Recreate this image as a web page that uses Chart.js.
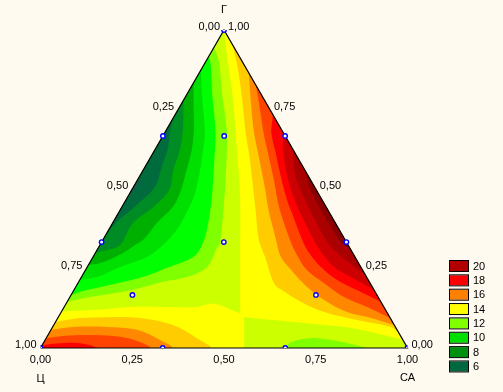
<!DOCTYPE html>
<html>
<head>
<meta charset="utf-8">
<script src="https://cdn.jsdelivr.net/npm/chart.js@4/dist/chart.umd.js"></script>
<style>
    html, body { margin: 0; background: #fffaf0; }
    #wrap { width: 503px; height: 392px; }
</style>
</head>
<body>
<div id="wrap"><canvas id="ternary" width="503" height="392"></canvas></div>
<script>
// contour lines: [x, y], x = CA + G/2, y = G
const left13 = [[.5,1],[.509,.912],[.523,.796],[.532,.676],[.538,.582],[.544,.475],[.544,.3],[.544,.12],[.544,.11],[.535,.113],[.47,.14],[.426,.129],[.353,.129],[.249,.129],[.154,.12],[.0575,.115]];
const left12 = [[.473,.946],[.486,.903],[.495,.796],[.508,.676],[.504,.528],[.498,.425],[.489,.33],[.481,.315],[.454,.255],[.399,.223],[.334,.208],[.249,.182],[.135,.16],[.0725,.145]];
const left11 = [[.459,.917],[.464,.89],[.468,.796],[.477,.676],[.473,.582],[.467,.475],[.456,.387],[.44,.324],[.416,.286],[.345,.252],[.279,.223],[.189,.198],[.127,.182],[.0835,.167]];
const left10 = [[.437,.874],[.441,.78],[.448,.676],[.444,.632],[.435,.56],[.421,.487],[.398,.425],[.371,.371],[.334,.324],[.29,.286],[.217,.255],[.154,.223],[.107,.214]];
const left9 = [[.417,.833],[.417,.764],[.418,.686],[.412,.623],[.398,.56],[.38,.487],[.358,.44],[.317,.393],[.285,.346],[.258,.324],[.225,.299],[.17,.27],[.1305,.261]];
const left8 = [[.39,.78],[.388,.686],[.38,.623],[.362,.56],[.351,.497],[.307,.443],[.252,.393],[.217,.324],[.181,.308],[.1495,.299]];
const left7 = [[.362,.723],[.354,.686],[.348,.632],[.33,.569],[.312,.506],[.262,.45],[.208,.396],[.173,.346]];
const left6 = [[.264,.528],[.274,.522],[.252,.491],[.24,.48]];

const right15 = [[.522,.956],[.536,.89],[.55,.777],[.559,.676],[.568,.613],[.577,.528],[.586,.434],[.595,.34],[.612,.286],[.636,.204],[.658,.182],[.71,.145],[.773,.113],[.862,.088],[.955,.066],[.9765,.047]];
const right16 = [[.5675,.865],[.574,.764],[.582,.676],[.595,.601],[.611,.506],[.623,.425],[.642,.34],[.655,.286],[.683,.245],[.726,.192],[.773,.151],[.835,.113],[.901,.094],[.964,.072]];
const right17 = [[.5865,.827],[.595,.771],[.608,.676],[.618,.623],[.636,.528],[.65,.443],[.68,.34],[.696,.299],[.726,.245],[.773,.204],[.827,.16],[.89,.129],[.953,.094]];
const right18 = [[.6335,.733],[.631,.711],[.629,.676],[.641,.613],[.655,.538],[.672,.465],[.685,.425],[.713,.34],[.732,.299],[.764,.255],[.808,.214],[.862,.182],[.9275,.145]];
const right19 = [[.662,.676],[.661,.623],[.677,.519],[.704,.434],[.745,.34],[.767,.299],[.8,.255],[.846,.223],[.909,.182]];
const right20 = [[.6885,.623],[.695,.538],[.718,.475],[.745,.409],[.778,.34],[.8,.308],[.832,.277],[.885,.23]];
const right21 = [[.723,.554],[.732,.506],[.764,.434],[.813,.34],[.827,.324],[.846,.308]];

const corner15 = [[.041,.082],[.108,.094],[.181,.097],[.271,.094],[.361,.072],[.426,.031],[.462,0],[0,0]];
const corner16 = [[.028,.057],[.089,.066],[.181,.066],[.263,.057],[.326,.025],[.358,0],[0,0]];
const corner17 = [[.016,.031],[.061,.038],[.143,.041],[.217,.035],[.271,.019],[.298,0],[0,0]];
const corner18 = [[.005,.009],[.045,.014],[.099,.016],[.135,.009],[.154,0],[0,0]];

const base13 = [[.555,0],[.555,.05],[.555,.09],[.555,.097],[.562,.096],[.636,.088],[.773,.072],[.862,.06],[.955,.035],[.982,.025],[.996,.008],[1,0]];
const base12 = [[.669,0],[.683,.019],[.737,.031],[.792,.025],[.862,.009],[.89,0]];

const triangle = [[0,0],[.5,1],[1,0],[0,0]];

// design points, as CA and G shares
const pointCA = [0, 0, .167, .333, 0, .333, .667, .167, .667, 0, .333, .667, 1];
const pointG = [1, .667, .667, .667, .333, .333, .333, .167, .167, 0, 0, 0, 0];

const tickLabels = ['0,00', '0,25', '0,50', '0,75', '1,00'];
const tickShares = [0, .25, .5, .75, 1];
const legendLevels = ['20', '18', '16', '14', '12', '10', '8', '6'];
const legendColors = ['#b00000', '#ff0000', '#ff8000', '#ffff00', '#80ff00', '#00e000', '#009010', '#006840'];

const bands = [
    [triangle, '#ffff00'],
    [left13, '#ccff00'], [left12, '#80ff00'], [left11, '#00ff00'], [left10, '#00e000'],
    [left9, '#00b000'], [left8, '#008c24'], [left7, '#006b3c'], [left6, '#0f5f4a'],
    [right15, '#ffcc00'], [right16, '#ff8800'], [right17, '#ff4400'], [right18, '#ff0000'],
    [right19, '#cc0000'], [right20, '#aa0000'], [right21, '#8a0000'],
    [corner15, '#ffcc00'], [corner16, '#ff8800'], [corner17, '#ff4400'], [corner18, '#ff0000'],
    [base13, '#ccff00'], [base12, '#80ff00']
];

const toPoints = (line) => line.map(p => ({ x: p[0], y: p[1] }));

const datasets = bands.map(b => ({
    data: toPoints(b[0]),
    showLine: true,
    fill: 'shape',
    backgroundColor: b[1],
    borderWidth: 0,
    pointRadius: 0,
    tension: b[0] === triangle ? 0 : 0.35
}));

datasets.push({
    data: toPoints(triangle),
    showLine: true,
    fill: false,
    borderColor: '#000000',
    borderWidth: 1.2,
    pointRadius: 0,
    tension: 0,
    clip: false
});

// markers stay clipped to the plot box, so the corner and base ones are cut like in the original
datasets.push({
    data: pointCA.map((ca, i) => ({ x: ca + pointG[i] / 2, y: pointG[i] })),
    showLine: false,
    pointRadius: 2.2,
    pointBorderColor: '#0000ff',
    pointBackgroundColor: '#ffffff',
    pointBorderWidth: 1.4,
    clip: 0
});

const labelsPlugin = {
    id: 'ternaryLabels',
    afterDraw(chart) {
        const { ctx, scales } = chart;
        const px = (x) => scales.x.getPixelForValue(x);
        const py = (y) => scales.y.getPixelForValue(y);
        ctx.save();
        ctx.fillStyle = '#000000';
        ctx.font = '11px "Liberation Sans"';
        ctx.textBaseline = 'middle';

        tickShares.forEach((t, i) => {
            // left side
            ctx.textAlign = 'right';
            ctx.fillText(tickLabels[i], px((1 - t) / 2) - 4, py(1 - t) - 3);
            // right side, counts up towards the apex
            ctx.textAlign = 'left';
            ctx.fillText(tickLabels[i], px(1 - t / 2) + 4, py(t) - 3);
            // base
            ctx.textAlign = 'center';
            ctx.fillText(tickLabels[i], px(t), py(0) + 12);
        });

        ctx.textAlign = 'center';
        ctx.fillText('Г', px(.5), py(1) - 20);
        ctx.fillText('Ц', px(0), py(0) + 31);
        ctx.fillText('СА', px(1), py(0) + 30);

        legendLevels.forEach((level, i) => {
            const top = 261 + i * 14.35;
            ctx.fillStyle = legendColors[i];
            ctx.fillRect(450, top, 18, 10);
            ctx.strokeStyle = '#000000';
            ctx.lineWidth = 1;
            ctx.strokeRect(449.5, top - .5, 19, 11);
            ctx.fillStyle = '#000000';
            ctx.textAlign = 'left';
            ctx.fillText(level, 473, top + 5.5);
        });
        ctx.restore();
    }
};

new Chart(document.getElementById('ternary'), {
    type: 'scatter',
    data: { datasets: datasets.reverse() },
    options: {
        responsive: false,
        animation: false,
        layout: { padding: { left: 40.5, right: 95.5, top: 30, bottom: 44 } },
        scales: {
            x: { type: 'linear', min: 0, max: 1, display: false },
            y: { type: 'linear', min: 0, max: 1, display: false }
        },
        plugins: { legend: { display: false }, tooltip: { enabled: false } }
    },
    plugins: [labelsPlugin]
});
</script>
</body>
</html>
